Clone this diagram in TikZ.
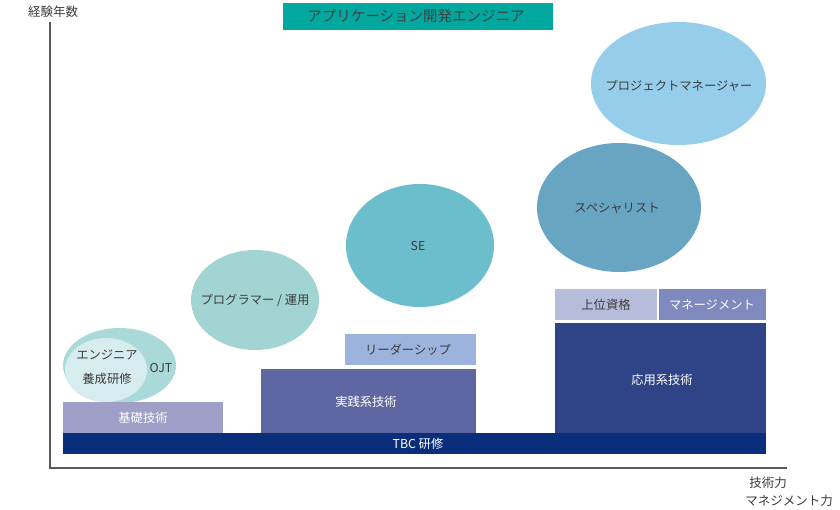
\documentclass[tikz,border=0pt]{standalone}
\usepackage{fontspec}
\setmainfont{Noto Sans CJK JP}
\usetikzlibrary{shapes.geometric}
\definecolor{titlec}{RGB}{0,168,160}
\definecolor{progc}{RGB}{163,212,212}
\definecolor{sec}{RGB}{109,190,204}
\definecolor{specc}{RGB}{103,165,194}
\definecolor{pmc}{RGB}{150,205,235}
\definecolor{ojtc}{RGB}{170,217,218}
\definecolor{engc}{RGB}{214,236,238}
\definecolor{kisoc}{RGB}{159,159,200}
\definecolor{jissenc}{RGB}{95,103,162}
\definecolor{leadc}{RGB}{155,179,221}
\definecolor{joic}{RGB}{181,189,219}
\definecolor{mgmtc}{RGB}{127,137,190}
\definecolor{oyoc}{RGB}{47,68,135}
\definecolor{tbcc}{RGB}{10,46,123}
\definecolor{txtc}{RGB}{60,60,60}
\definecolor{axisc}{RGB}{90,90,90}
\tikzset{
  lbl/.style={font=\fontsize{12.3}{14}\selectfont, text=txtc, inner sep=0pt},
  wlbl/.style={font=\fontsize{12.3}{14}\selectfont, text=white, inner sep=0pt},
  axisline/.style={draw=axisc, line width=1.2pt}
}
\begin{document}
\begin{tikzpicture}[x=1pt,y=-1pt]
\useasboundingbox (0,0) rectangle (840,510);
\fill[white] (0,0) rectangle (840,510);
% axes
\coordinate (ytop) at (50,22);
\coordinate (orig) at (50,468);
\coordinate (xend) at (787,468);
\draw[axisline] (ytop) -- (orig) -- (xend);
\node[lbl, font=\fontsize{12.5}{14}\selectfont] (ylab) at (53,12) {経験年数};
\node[lbl, anchor=east, font=\fontsize{12.5}{14}\selectfont] (xlab1) at (787,483) {技術力};
\node[lbl, anchor=east, font=\fontsize{12.5}{14}\selectfont] (xlab2) at (833,501) {マネジメント力};
% title
\fill[titlec] (283,3) rectangle (553,30);
\node[lbl, font=\fontsize{14.5}{16}\selectfont, text=black!75] (title) at (416,16.5) {アプリケーション開発エンジニア};
% ellipses
\fill[pmc] (678.5,83.5) ellipse [x radius=87.5, y radius=61.5];
\node[lbl] (pm) at (679,86) {プロジェクトマネージャー};
\fill[specc] (619,207.5) ellipse [x radius=82, y radius=64.5];
\node[lbl] (spec) at (617,208) {スペシャリスト};
\fill[sec] (420,245.5) ellipse [x radius=74, y radius=61.5];
\node[lbl] (se) at (418,246) {SE};
\fill[progc] (255,300) ellipse [x radius=64, y radius=50];
\node[lbl] (prog) at (255,300) {プログラマー / 運用};
\fill[ojtc] (119.5,365.5) ellipse [x radius=56.5, y radius=37.5];
\fill[engc] (106,370) ellipse [x radius=41, y radius=32];
\node[lbl] (eng1) at (107,355) {エンジニア};
\node[lbl] (eng2) at (107,379) {養成研修};
\node[lbl] (ojt) at (161,368) {OJT};
% boxes
\fill[tbcc] (63,433) rectangle (766,454);
\node[wlbl] (tbc) at (418,443.5) {TBC 研修};
\fill[kisoc] (63,402) rectangle (223,433);
\node[wlbl] (kiso) at (143,418) {基礎技術};
\fill[jissenc] (261,369) rectangle (476,433);
\node[wlbl] (jissen) at (366,402) {実践系技術};
\fill[leadc] (345,334) rectangle (476,365);
\node[lbl] (lead) at (408,350) {リーダーシップ};
\fill[oyoc] (555,323) rectangle (766,433);
\node[wlbl] (oyo) at (662,380) {応用系技術};
\fill[joic] (555,289) rectangle (657,320);
\node[lbl] (joi) at (606,304.5) {上位資格};
\fill[mgmtc] (659,289) rectangle (766,320);
\node[wlbl] (mgmt) at (712,304.5) {マネージメント};
\end{tikzpicture}
\end{document}
